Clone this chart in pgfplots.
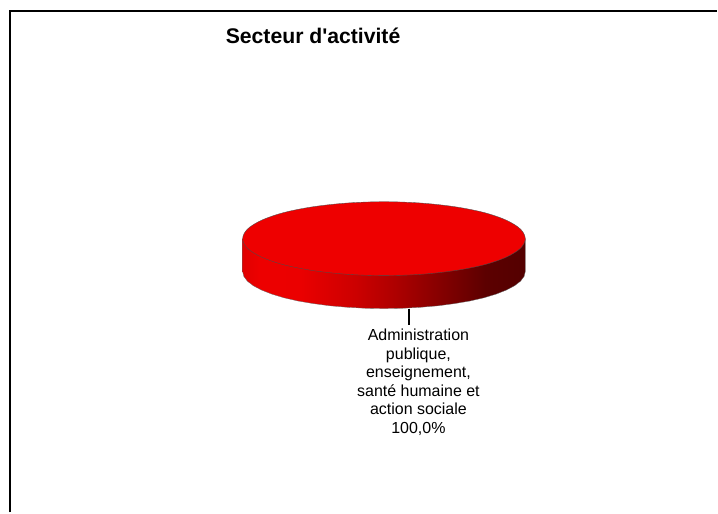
\documentclass[border=0pt]{standalone}
\usepackage{pgfplots}
\pgfplotsset{compat=1.18}
\usepackage{fontspec}
\setmainfont{Liberation Sans}
\definecolor{pietop}{HTML}{EE0000}
\pgfdeclarehorizontalshading{pieside}{100bp}{
  color(0bp)=(red!88!black);
  color(25bp)=(red!88!black);
  color(28bp)=(red!93!black);
  color(35bp)=(red!92!black);
  color(45bp)=(red!80!black);
  color(52bp)=(red!68!black);
  color(60bp)=(red!52!black);
  color(68bp)=(red!36!black);
  color(75bp)=(red!33!black);
  color(100bp)=(red!33!black)}
\begin{document}
\begin{tikzpicture}
\begin{axis}[
  at={(0pt,0pt)}, anchor=south west,
  scale only axis, width=718pt, height=513pt,
  xmin=0, xmax=718, ymin=0, ymax=513,
  hide axis, clip=false]
% frame
\addplot[black, line width=2pt, no marks] coordinates {(10,0) (10,502) (718,502)};
% side of the pie
\addplot[shade, shading=pieside, draw=none, no marks] coordinates {
(243,274) (243,241) (244.2,236.2) (247.8,231.4) (253.8,226.8) (262,222.5) (272.2,218.5)
(284.4,214.8) (298.4,211.6) (313.75,209) (330.3,206.8) (347.9,205.3) (366,204.3)
(384.5,204) (403,204.3) (421.1,205.3) (438.7,206.8) (455.25,209) (470.6,211.6)
(484.6,214.8) (496.8,218.5) (507,222.5) (515.2,226.8) (521.2,231.4) (524.8,236.2)
(526,241) (526,274)};
\addplot[black!60, line width=0.3pt, no marks] coordinates {
(243,274) (243,241) (244.2,236.2) (247.8,231.4) (253.8,226.8) (262,222.5) (272.2,218.5)
(284.4,214.8) (298.4,211.6) (313.75,209) (330.3,206.8) (347.9,205.3) (366,204.3)
(384.5,204) (403,204.3) (421.1,205.3) (438.7,206.8) (455.25,209) (470.6,211.6)
(484.6,214.8) (496.8,218.5) (507,222.5) (515.2,226.8) (521.2,231.4) (524.8,236.2)
(526,241) (526,274)};
% top of the pie
\addplot[fill=pietop, draw=black!70, line width=0.35pt, no marks, smooth cycle, tension=0.55] coordinates {
(526,274) (521.2,283.6) (507,292.5) (484.6,300.2) (455.25,306) (421.1,309.7)
(384.5,311) (347.9,309.7) (313.75,306) (284.4,300.2) (262,292.5) (247.8,283.6)
(243,274) (247.8,264.4) (262,255.5) (284.4,247.8) (313.75,242) (347.9,238.3)
(384.5,237) (421.1,238.3) (455.25,242) (484.6,247.8) (507,255.5) (521.2,264.4)};
% leader
\addplot[black, line width=1.8pt, no marks] coordinates {(409.5,204) (409.5,188)};
\node[font=\fontsize{21.2}{24}\bfseries\selectfont, anchor=base] at (axis cs:313.5,469.5) {Secteur d\textquotesingle activité};
\node[font=\fontsize{16}{18.6}\selectfont, align=center, anchor=north] at (axis cs:419,187)
 {Administration\\publique,\\enseignement,\\santé humaine et\\action sociale\\100,0\%};
\end{axis}
\path (0,0) rectangle (718pt,513pt);
\end{tikzpicture}
\end{document}
